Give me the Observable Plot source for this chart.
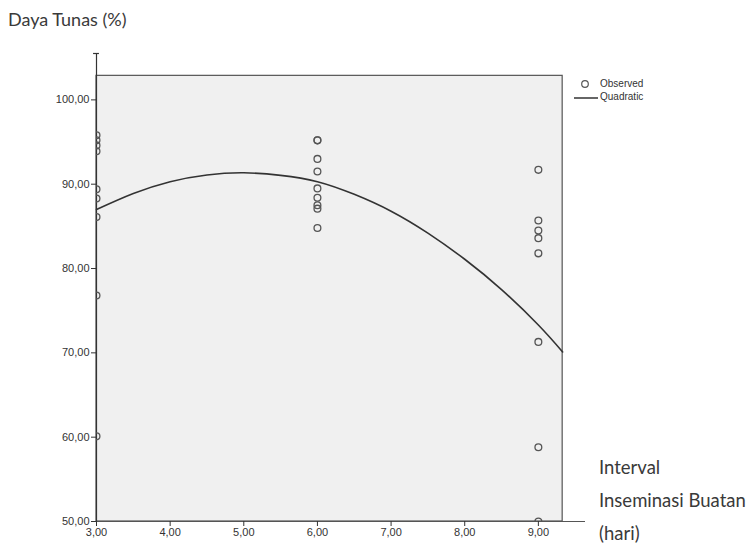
<!DOCTYPE html>
<html>
<head>
<meta charset="utf-8">
<script src="https://cdn.jsdelivr.net/npm/d3@7"></script>
<script src="https://cdn.jsdelivr.net/npm/@observablehq/plot@0.6"></script>
<style>
  html, body { margin: 0; padding: 0; background: #fff; }
  #wrap { position: relative; width: 748px; height: 550px; overflow: hidden; }
  #chart { position: absolute; left: 0; top: 0; }
  .title { position: absolute; left: 8px; top: 8px; font-family: Lato, "Open Sans", sans-serif; font-size: 18px; color: #3a3a3a; }
  .xlab { position: absolute; left: 599px; font-family: Lato, "Open Sans", sans-serif; font-size: 18.5px; color: #3a3a3a; white-space: nowrap; }
  .legend { position: absolute; left: 572px; top: 77px; font-family: "Liberation Sans", Arial, sans-serif; font-size: 10px; color: #333; }
  .legend div { display: flex; align-items: center; height: 13px; }
  .legend svg { margin-right: 2px; }
</style>
</head>
<body>
<div id="wrap">
  <div id="chart"></div>
  <div class="title">Daya Tunas (%)</div>
  <div class="legend">
    <div><svg width="26" height="12"><circle cx="13" cy="6" r="3.3" fill="none" stroke="#555" stroke-width="1.2"/></svg>Observed</div>
    <div><svg width="26" height="12"><line x1="2" x2="26" y1="7" y2="7" stroke="#333" stroke-width="1.5"/></svg>Quadratic</div>
  </div>
  <div class="xlab" style="top:456px">Interval</div>
  <div class="xlab" style="top:489px">Inseminasi Buatan</div>
  <div class="xlab" style="top:522px">(hari)</div>
</div>
<script>
const obsX = [3,3,3,3,3,3,3,3,3,
              6,6,6,6,6,6,6,6,6,
              9,9,9,9,9,9,9,9];
const obsY = [95.8,95.2,94.6,93.9,89.4,88.3,86.1,76.8,60.1,
              95.2,95.2,93.0,91.5,89.5,88.4,87.5,87.1,84.8,
              91.7,85.7,84.5,83.6,81.8,71.3,58.8,50.0];

// Quadratic fit line
const fitX = [3.0,3.5,4.0,4.5,5.0,5.5,6.0,6.5,7.0,7.5,8.0,8.5,9.0,9.33];
const fitY = [87.0,88.9,90.3,91.1,91.35,91.05,90.3,88.8,86.8,84.2,81.1,77.5,73.3,70.1];

// Axis ticks
const xTicks = [3,4,5,6,7,8,9];
const yTicks = [50,60,70,80,90,100];

// Axis extents (plot area and extended axis lines)
const xFrame = [3, 9.33];
const yFrame = [50, 102.85];
const xAxisEnd = 9.64;
const yAxisEnd = 105.5;

const obs = obsX.map((x, i) => ({x, y: obsY[i]}));
const fit = fitX.map((x, i) => ({x, y: fitY[i]}));
const fmt = d => d.toFixed(2).replace(".", ",");

const chart = Plot.plot({
  width: 748,
  height: 550,
  marginLeft: 96,
  marginRight: 163,
  marginTop: 53,
  marginBottom: 29,
  x: {domain: [xFrame[0], xAxisEnd]},
  y: {domain: [yFrame[0], yAxisEnd]},
  style: {fontFamily: "'Liberation Sans', Arial, sans-serif", fontSize: "11px", color: "#333", background: "white"},
  marks: [
    Plot.rect([0], {x1: xFrame[0], x2: xFrame[1], y1: yFrame[0], y2: yFrame[1], fill: "#f0f0f0", stroke: "#555", strokeWidth: 1.2}),
    Plot.ruleX([xFrame[0]], {y1: yFrame[0], y2: yAxisEnd, stroke: "#333", strokeWidth: 1.2}),
    Plot.ruleY([yAxisEnd], {x1: xFrame[0] - 0.04, x2: xFrame[0] + 0.04, stroke: "#333", strokeWidth: 1.2}),
    Plot.ruleY([yFrame[0]], {x1: xFrame[0], x2: xAxisEnd, stroke: "#555", strokeWidth: 1.2}),
    Plot.axisY({ticks: yTicks, tickFormat: fmt, tickSize: 5, tickPadding: 2, label: null}),
    Plot.axisX({ticks: xTicks, tickFormat: fmt, tickSize: 5, tickPadding: 2, label: null}),
    Plot.line(fit, {x: "x", y: "y", curve: "natural", stroke: "#333", strokeWidth: 1.6}),
    Plot.dot(obs, {x: "x", y: "y", r: 3.4, stroke: "#555", strokeWidth: 1.3, fill: "none", clip: true})
  ]
});
document.getElementById("chart").appendChild(chart);
</script>
</body>
</html>
